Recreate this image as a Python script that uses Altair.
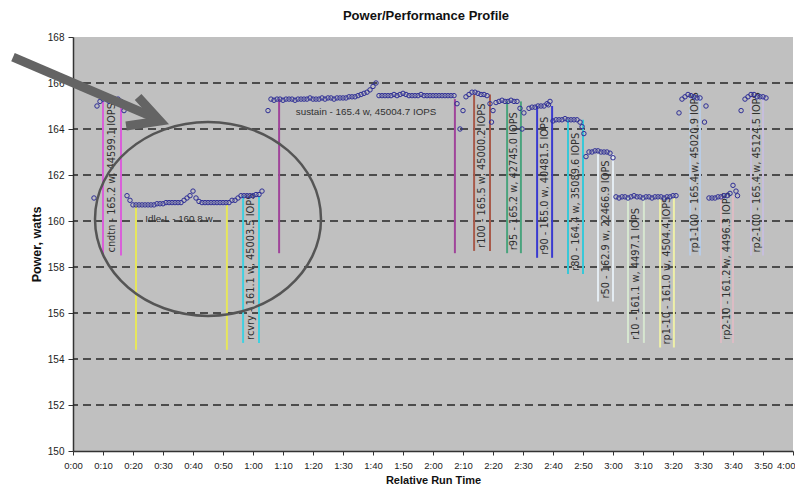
import altair as alt
import pandas as pd

# ---------------- measured samples (minutes from start, watts) ----------------
cndtn_t = [7, 8, 9, 10, 11, 12, 13, 14, 15, 16, 17, 18]
cndtn_w = [161.0, 165.0, 165.2, 165.3, 165.3, 165.2, 165.3, 165.3, 165.3, 165.2, 164.8, 161.1]

idle_t = list(range(19, 54))
idle_w = [160.9, 160.7, 160.7, 160.7, 160.7, 160.7, 160.7, 160.7, 160.7, 160.75,
          160.75, 160.75, 160.8, 160.8, 160.8, 160.8, 160.8, 160.8, 160.9, 161.0,
          161.1, 161.3, 161.0, 160.85, 160.8, 160.8, 160.8, 160.8, 160.8, 160.8,
          160.8, 160.8, 160.8, 160.8, 160.9]

rcvry_t = list(range(54, 64))
rcvry_w = [160.9, 161.0, 161.1, 161.1, 161.1, 161.1, 161.1, 161.15, 161.15, 161.3]

sustain_t = [65] + list(range(66, 128)) + [128, 129, 130]
sustain_w = ([164.8] +
             [165.3, 165.25, 165.3, 165.3, 165.25, 165.3, 165.3, 165.3, 165.25, 165.3,
              165.3, 165.3, 165.3, 165.35, 165.3, 165.3, 165.3, 165.35, 165.3, 165.35,
              165.35, 165.3, 165.35, 165.35, 165.35,
              165.35, 165.4, 165.4, 165.4, 165.45, 165.5, 165.55, 165.6, 165.7, 165.85, 166.0,
              165.45, 165.45, 165.45, 165.45, 165.45, 165.5, 165.45, 165.5, 165.55, 165.5,
              165.45, 165.45, 165.45, 165.45, 165.5, 165.45, 165.45, 165.45, 165.45, 165.45,
              165.45, 165.45, 165.45, 165.45, 165.45, 165.45] +
             [165.1, 164.0, 164.8])

r100_t = [131, 132, 133, 134, 135, 136, 137, 138, 139, 139.5, 140]
r100_w = [165.4, 165.5, 165.6, 165.6, 165.55, 165.5, 165.5, 165.45, 165.1, 164.3, 164.8]

r95_t = [141, 142, 143, 144, 145, 146, 147, 148, 149, 149.7, 150.3]
r95_w = [165.15, 165.2, 165.25, 165.2, 165.2, 165.25, 165.2, 165.2, 164.9, 164.0, 164.7]

r90_t = [152, 153, 154, 155, 156, 157, 158, 158.5, 159]
r90_w = [164.9, 164.95, 164.95, 165.0, 165.0, 165.0, 165.1, 165.05, 165.2]

r80_t = [160, 161, 162, 163, 164, 165, 166, 167, 168, 169, 169.7, 170.3]
r80_w = [164.35, 164.4, 164.4, 164.4, 164.45, 164.4, 164.4, 164.4, 164.4, 164.3, 164.1, 163.8]

r50_t = [171, 172, 173, 174, 175, 176, 177, 178, 179, 180]
r50_w = [162.8, 163.0, 163.0, 163.05, 163.05, 163.0, 163.0, 163.0, 162.95, 162.75]

r10_t = list(range(181, 202))
r10_w = [161.05, 161.0, 161.05, 161.05, 161.0, 161.05, 161.1, 161.05, 161.05, 161.0,
         161.05, 161.05, 161.0, 161.05, 161.05, 161.05, 161.0, 161.05, 161.05, 161.1, 161.1]

rp1_100_t = [202, 203, 204, 205, 206, 207, 208, 209, 210.5, 211]
rp1_100_w = [164.7, 165.3, 165.4, 165.5, 165.45, 165.4, 165.35, 165.35, 164.3, 165.0]

rp2_10_t = [212, 213, 214, 215, 216, 217, 218, 219, 220, 221, 221.5]
rp2_10_w = [161.0, 161.0, 161.0, 161.05, 161.05, 161.1, 161.1, 161.2, 161.55, 161.3, 161.1]

rp2_100_t = [222.7, 224, 225, 226, 227, 228, 229, 230, 231]
rp2_100_w = [164.8, 165.3, 165.4, 165.5, 165.5, 165.4, 165.4, 165.4, 165.35]

# ---------------- phase markers (start / end minute, level, lower end) ----------------
seg_names = ["cndtn", "Idle-L", "rcvry", "sustain", "r100", "r95", "r90", "r80",
             "r50", "r10", "rp1-10", "rp1-100", "rp2-10", "rp2-100"]
seg_start = [10, 21, 56.7, 68.7, 133.7, 144.7, 154.7, 165, 175, 185, 195.7, 205.7, 216, 226]
seg_end = [16, 51.3, 62, 127.3, 139, 149.3, 159.7, 170, 180, 190.3, 200.3, 209, 220, 230]
seg_level = [165.2, 160.7, 161.1, 165.3, 165.5, 165.2, 165.0, 164.4, 162.9, 161.1, 161.0, 165.4, 161.1, 165.4]
seg_floor = [158.5, 154.4, 154.7, 158.6, 158.7, 158.6, 158.4, 157.7, 156.5, 154.7, 154.5, 158.5, 154.7, 158.5]
seg_colors = ["#d95fd9", "#e6e65c", "#3fd0e0", "#a0449a", "#a85a4a", "#4aa37d", "#3a3ad0",
              "#38c8d8", "#e4ecf2", "#d6e6d0", "#eef0a8", "#b8cce6", "#dcbcc4", "#c6bedc"]
seg_labels = ["cndtn - 165.2 w, 44599.1 IOPS", "", "rcvry - 161.1 w, 45003.5 IOPS", "",
              "r100 - 165.5 w, 45000.2 IOPS", "r95 - 165.2 w, 42745.0 IOPS",
              "r90 - 165.0 w, 40481.5 IOPS", "r80 - 164.4 w, 35089.6 IOPS",
              "r50 - 162.9 w, 22466.9 IOPS", "r10 - 161.1 w, 4497.1 IOPS",
              "rp1-10 - 161.0 w, 4504.4 IOPS", "rp1-100 - 165.4 w, 45020.9 IOPS",
              "rp2-10 - 161.2 w, 4496.3 IOPS", "rp2-100 - 165.4 w, 45124.5 IOPS"]

# horizontal phase captions
h_labels = ["Idle-L - 160.8 w", "sustain - 165.4 w, 45004.7 IOPS"]
h_t = [35.3, 97.7]
h_w = [160.09, 164.74]

grid_vals = [152, 154, 156, 158, 160, 162, 164, 166]
x_ticks = list(range(0, 241, 10))
y_ticks = list(range(150, 169, 2))

# hand-drawn emphasis (in data units)
arrow_shaft_t = [-20.0, 27.3]
arrow_shaft_w = [167.13, 164.48]
arrow_head_t = [21.7, 29.0, 17.7]
arrow_head_w = [165.39, 164.35, 164.13]
ellipse_t = [45.0]
ellipse_w = [160.09]

# ---------------- tables ----------------
all_t = (cndtn_t + idle_t + rcvry_t + sustain_t + r100_t + r95_t + r90_t + r80_t +
         r50_t + r10_t + rp1_100_t + rp2_10_t + rp2_100_t)
all_w = (cndtn_w + idle_w + rcvry_w + sustain_w + r100_w + r95_w + r90_w + r80_w +
         r50_w + r10_w + rp1_100_w + rp2_10_w + rp2_100_w)
pts = pd.DataFrame({"t": all_t, "w": all_w})

marks = pd.DataFrame({
    "seg": seg_names * 2,
    "t": seg_start + seg_end,
    "top": seg_level * 2,
    "bottom": seg_floor * 2,
})
labs = pd.DataFrame({
    "seg": seg_names,
    "t": [(a + b) / 2 for a, b in zip(seg_start, seg_end)],
    "bottom": seg_floor,
    "label": seg_labels,
})
labs = labs[labs["label"] != ""]
hl = pd.DataFrame({"t": h_t, "w": h_w, "label": h_labels})
grid = pd.DataFrame({"w": grid_vals})
shaft = pd.DataFrame({"t": arrow_shaft_t, "w": arrow_shaft_w, "o": [0, 1]})
head = pd.DataFrame({"t": arrow_head_t, "w": arrow_head_w, "o": [0, 1, 2]})
ell = pd.DataFrame({"t": ellipse_t, "w": ellipse_w})

FONT = "Liberation Sans"
WIDE = "DejaVu Sans"
xs = alt.Scale(domain=[0, 240], nice=False, zero=False)
ys = alt.Scale(domain=[150, 168], nice=False, zero=False)

label_expr = ("floor(datum.value/60) + ':' + (datum.value % 60 < 10 ? '0' : '') + (datum.value % 60)")

x_axis = alt.Axis(values=x_ticks, labelExpr=label_expr, grid=False, labelFlush=False,
                  labelAlign=alt.condition("datum.value >= 240", alt.value("right"), alt.value("center")),
                  labelOffset=alt.condition("datum.value >= 240", alt.value(2), alt.value(0)),
                  domainColor="#333", domainWidth=1.5, tickColor="#333", tickSize=4,
                  labelPadding=5, labelFontSize=9.5, labelColor="#222", labelFont=FONT,
                  titleFont=FONT, titleFontSize=11, titleFontWeight="bold",
                  titleColor="#111", titleBaseline="top", titleY=23)
y_axis = alt.Axis(values=y_ticks, grid=False, labelFlush=False, domainColor="#333", domainWidth=1.5,
                  tickColor="#333", tickSize=5, labelPadding=4, labelFontSize=10,
                  labelColor="#222", labelFont=FONT, titleFont=FONT, titleFontSize=12.5,
                  titleFontWeight="bold", titleColor="#111", titlePadding=4)


def X(field):
    return alt.X(field, type="quantitative", scale=xs, axis=x_axis, title="Relative Run Time")


def Y(field):
    return alt.Y(field, type="quantitative", scale=ys, axis=y_axis, title="Power, watts")


gridlayer = alt.Chart(grid).mark_rule(color="#262626", strokeWidth=1.5, strokeDash=[8, 5]).encode(
    y=Y("w")
)

drop = alt.Chart(marks).mark_rule(strokeWidth=2).encode(
    x=X("t"),
    y=Y("top"),
    y2="bottom:Q",
    color=alt.Color("seg:N", scale=alt.Scale(domain=seg_names, range=seg_colors), legend=None),
)

vlabels = alt.Chart(labs).mark_text(angle=270, align="left", baseline="middle", fontSize=9.8,
                                    font=WIDE, color="#303030", dx=3).encode(
    x=X("t"),
    y=Y("bottom"),
    text="label:N",
)

hlabels = alt.Chart(hl).mark_text(align="center", baseline="middle", fontSize=9.8,
                                  font=FONT, color="#303030").encode(
    x=X("t"),
    y=Y("w"),
    text="label:N",
)

points = alt.Chart(pts).mark_point(shape="circle", filled=False, size=20, strokeWidth=1,
                                   color="#2e2e96", opacity=1).encode(
    x=X("t"),
    y=Y("w"),
)

ellipse_path = ("M -1 0 C -1 -0.474 -0.552 -0.858 0 -0.858 C 0.552 -0.858 1 -0.474 1 0 "
                "C 1 0.474 0.552 0.858 0 0.858 C -0.552 0.858 -1 0.474 -1 0 Z")
ellipse = alt.Chart(ell).mark_point(shape=ellipse_path, filled=False, size=51076,
                                    strokeWidth=2.5, color="#555555", opacity=1).encode(
    x=X("t"),
    y=Y("w"),
)

arrow_shaft = alt.Chart(shaft).mark_line(color="#646464", strokeWidth=9, strokeCap="butt").encode(
    x=X("t"),
    y=Y("w"),
    order="o:Q",
)
arrow_head = alt.Chart(head).mark_line(color="#646464", strokeWidth=9, strokeCap="butt",
                                       strokeJoin="miter").encode(
    x=X("t"),
    y=Y("w"),
    order="o:Q",
)

chart = alt.layer(
    gridlayer, drop, vlabels, hlabels, points, ellipse, arrow_shaft, arrow_head
).properties(
    width=720,
    height=414,
    autosize=alt.AutoSizeParams(type="none"),
    padding={"left": 65, "top": 29, "right": 2, "bottom": 35},
    title=alt.Title("Power/Performance Profile", fontSize=13, fontWeight="bold", font=FONT,
                    color="#111", anchor="middle", offset=9, dx=-7),
).configure_view(
    fill="#c0c0c0", stroke=None
)

chart.save("out.html", embed_options={"renderer": "svg", "actions": False})
